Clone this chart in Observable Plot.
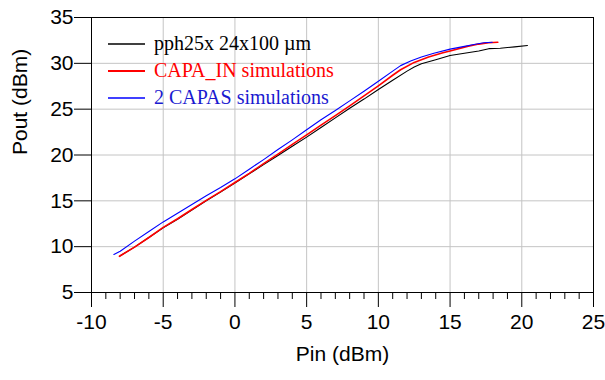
<!DOCTYPE html>
<html>
<head>
<meta charset="utf-8">
<script src="https://cdn.jsdelivr.net/npm/d3@7"></script>
<script src="https://cdn.jsdelivr.net/npm/@observablehq/plot@0.6"></script>
<style>
  html, body { margin: 0; padding: 0; background: #fff; }
  #chart { width: 605px; height: 380px; }
</style>
</head>
<body>
<div id="chart"></div>
<script>
// ---- data ----
const seriesNames = ["pph25x 24x100 µm", "CAPA_IN simulations", "2 CAPAS simulations"];
const seriesColors = ["#000000", "#ff0000", "#0000ff"];
const seriesWidths = [1.1, 1.6, 1.1];

const measuredPin  = [-8.0,-7,-6,-5,-4,-3,-2,-1,0,1,2,3,4,5,6,7,8,9,10,11,12,12.5,13,14,15,16,17,17.7,18.5,19.5,20.4];
const measuredPout = [9.0,9.95,11.0,12.05,13.0,14.0,15.0,15.95,16.95,17.95,18.95,19.95,20.95,21.95,23.0,24.05,25.1,26.1,27.15,28.15,29.15,29.6,29.95,30.4,30.85,31.1,31.35,31.6,31.65,31.8,31.95];

const capaInPin  = [-8.05,-7,-6,-5,-4,-3,-2,-1,0,1,2,3,4,5,6,7,8,9,10,11,11.55,12.5,13.5,14.5,15,16.2,17,17.7,18.33];
const capaInPout = [8.95,9.95,11.0,12.1,13.05,14.05,15.05,16.0,17.0,18.0,19.05,20.1,21.15,22.2,23.25,24.3,25.35,26.45,27.55,28.7,29.3,30.1,30.7,31.15,31.35,31.85,32.1,32.25,32.3];

const capasPin  = [-8.44,-8,-7,-6,-5,-4,-3,-2,-1,0,1,2,3,4,5,6,7,8,9,10,11,11.55,12.25,13,13.87,15,16,16.66,17.35,17.94];
const capasPout = [9.15,9.5,10.6,11.65,12.7,13.65,14.6,15.55,16.45,17.4,18.45,19.5,20.6,21.65,22.75,23.85,24.85,25.9,26.95,28.05,29.15,29.75,30.25,30.7,31.1,31.55,31.85,32.05,32.25,32.3];

const xMajorTicks = [-10,-5,0,5,10,15,20,25];
const xMinorTicks = d3.range(-10, 26, 1).filter(v => v % 5 !== 0);
const yMajorTicks = [5,10,15,20,25,30,35];
const xLabel = "Pin (dBm)";
const yLabel = "Pout (dBm)";

// ---- build table ----
const rows = [];
[[measuredPin, measuredPout], [capaInPin, capaInPout], [capasPin, capasPout]].forEach(([xs, ys], i) => {
  xs.forEach((x, j) => rows.push({series: seriesNames[i], pin: x, pout: ys[j]}));
});

const sans = "'Liberation Sans', Arial, sans-serif";
const fmt = d => String(d);

const chart = Plot.plot({
  width: 605,
  height: 380,
  marginLeft: 91,
  marginRight: 12,
  marginTop: 17,
  marginBottom: 88,
  style: {fontFamily: sans, background: "#fff", overflow: "visible"},
  x: {domain: [-10, 25]},
  y: {domain: [5, 35]},
  marks: [
    Plot.gridX(xMajorTicks, {stroke: "#c4c4c4", strokeOpacity: 1, strokeWidth: 1}),
    Plot.gridY(yMajorTicks, {stroke: "#c4c4c4", strokeOpacity: 1, strokeWidth: 1}),
    Plot.frame({stroke: "#000", strokeWidth: 1}),
    Plot.axisX(xMajorTicks, {tickSize: 15, tickPadding: 7, fontSize: 21, label: null, tickFormat: fmt, stroke: "#000", fill: "#000"}),
    Plot.axisX(xMinorTicks, {tickSize: 7, text: null, label: null, stroke: "#000"}),
    Plot.axisY(yMajorTicks, {tickSize: 17, tickPadding: 1, fontSize: 21, label: null, tickFormat: fmt, stroke: "#000", fill: "#000"}),
    Plot.text([xLabel], {frameAnchor: "bottom", dy: 68, fontSize: 21, fill: "#000"}),
    Plot.text([yLabel], {frameAnchor: "left", dx: -71, rotate: -90, fontSize: 21, fill: "#000"}),
    ...seriesNames.map((name, i) =>
      Plot.line(rows.filter(d => d.series === name), {
        x: "pin", y: "pout", stroke: seriesColors[i], strokeWidth: seriesWidths[i], curve: "linear"
      })
    )
  ]
});

// ---- legend (inside the plot, top-left) ----
const svg = d3.select(chart);
const legendRowsY = [44, 71, 98];
const lg = svg.append("g").attr("class", "legend").attr("text-anchor", "start");
seriesNames.forEach((name, i) => {
  lg.append("line")
    .attr("x1", 108).attr("x2", 145)
    .attr("y1", legendRowsY[i]).attr("y2", legendRowsY[i])
    .attr("stroke", seriesColors[i]).attr("stroke-width", i === 1 ? 2.2 : 1.3);
  lg.append("text")
    .attr("x", 154).attr("y", legendRowsY[i] + 6)
    .attr("text-anchor", "start")
    .attr("font-family", "'Liberation Serif', 'Times New Roman', serif")
    .attr("font-size", 20)
    .attr("fill", i === 2 ? "#1a1ad0" : seriesColors[i])
    .text(name);
});

document.getElementById("chart").appendChild(chart);
</script>
</body>
</html>
